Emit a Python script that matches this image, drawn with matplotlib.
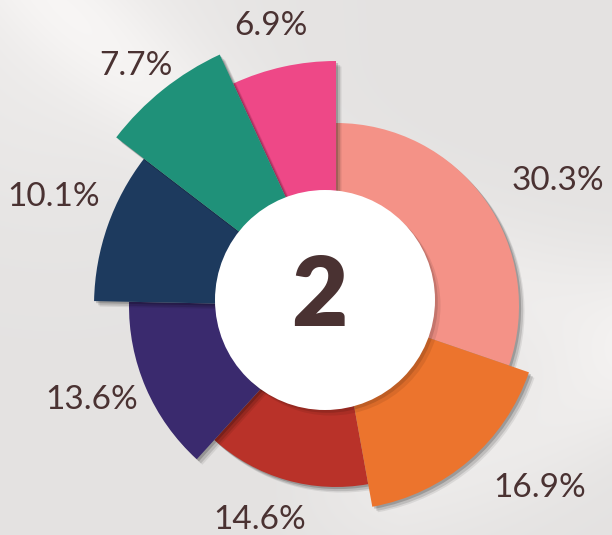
import numpy as np
import matplotlib.pyplot as plt
import matplotlib.patheffects as pe
from matplotlib.patches import Circle

# Slice data, clockwise from 12 o'clock
labels = ['30.3%', '16.9%', '14.6%', '13.6%', '10.1%', '7.7%', '6.9%']
shares = [30.3, 16.9, 14.6, 13.6, 10.1, 7.7, 6.9]
center_text = '2'

# Styling
colors = ['#F49287', '#EC742D', '#B93229', '#3A2A6E', '#1D3A5E', '#1F9179', '#EE4887']
radius_px = [183, 204, 181, 207, 242, 277, 245]   # outer radius of each wedge
draw_order = [0, 2, 1, 3, 4, 6, 5]                # later wedges overlap earlier ones
label_xy = [(558, 181), (540, 488), (260, 520), (92, 400), (54, 197), (136, 66), (271, 26)]
text_color = '#4A3232'

W, H, DPI = 612, 535, 100
CX, CY = 336, 306          # wedge centre in pixels (from top-left)
RMAX = 300

fig = plt.figure(figsize=(W / DPI, H / DPI), dpi=DPI)

# background: light grey with soft white swooshes
bg = fig.add_axes([0, 0, 1, 1], zorder=0)
yy, xx = np.mgrid[0:H, 0:W] / 535.0
base = 0.895 + 0.035 * np.exp(-((xx - 0.1) ** 2 + (yy - 0.05) ** 2) / 0.12)
swoosh = 0.04 * np.exp(-((yy - 0.5 * xx + 0.1 - 0.2 * np.sin(2.2 * xx)) ** 2) / 0.02)
swoosh2 = 0.035 * np.exp(-((yy - 0.9 + 0.6 * (xx - 0.6) ** 2) ** 2) / 0.02) * np.clip((xx - 0.5) * 4, 0, 1)
img = np.clip(base + swoosh + swoosh2, 0, 1)
rgb = np.dstack([img, img * 0.992, img * 0.988])
bg.imshow(rgb, extent=[0, W, H, 0], aspect='auto')
bg.set_xlim(0, W)
bg.set_ylim(H, 0)
bg.axis('off')

# polar axes for the wedges, sized so 1 radial unit = 1 pixel
ax = fig.add_axes([(CX - RMAX) / W, (H - CY - RMAX) / H, 2 * RMAX / W, 2 * RMAX / H],
                  projection='polar', zorder=1)
ax.patch.set_alpha(0)
ax.set_theta_zero_location('N')
ax.set_theta_direction(-1)
total = sum(shares)
widths = [s / total * 2 * np.pi for s in shares]
starts = np.concatenate([[0], np.cumsum(widths)[:-1]])

shadow = [pe.SimplePatchShadow(offset=(4, -4), shadow_rgbFace='k', alpha=0.08),
          pe.SimplePatchShadow(offset=(3, -3), shadow_rgbFace='k', alpha=0.12),
          pe.SimplePatchShadow(offset=(1.5, -1.5), shadow_rgbFace='k', alpha=0.18),
          pe.Normal()]
for z, i in enumerate(draw_order):
    bars = ax.bar(starts[i], radius_px[i], width=widths[i], bottom=0, align='edge',
                  color=colors[i], linewidth=0, zorder=2 + z)
    bars[0].set_path_effects(shadow)
ax.set_ylim(0, RMAX)
ax.axis('off')

# overlay in pixel coordinates: centre disc, number and labels
ov = fig.add_axes([0, 0, 1, 1], zorder=2)
ov.patch.set_alpha(0)
ov.set_xlim(0, W)
ov.set_ylim(H, 0)
ov.axis('off')
disc = Circle((325, 300), 110, facecolor='white', edgecolor='none')
disc.set_path_effects([pe.SimplePatchShadow(offset=(4, -4), shadow_rgbFace='k', alpha=0.08),
                       pe.SimplePatchShadow(offset=(2, -2), shadow_rgbFace='k', alpha=0.12),
                       pe.Normal()])
ov.add_patch(disc)
ov.text(319, 298, center_text, ha='center', va='center', fontsize=70,
        fontweight='heavy', family='Lato', color=text_color)
for lab, (x, y) in zip(labels, label_xy):
    ov.text(x, y, lab, ha='center', va='center', fontsize=24,
            family='Lato', color=text_color)

fig.savefig('out.png', dpi=DPI)
